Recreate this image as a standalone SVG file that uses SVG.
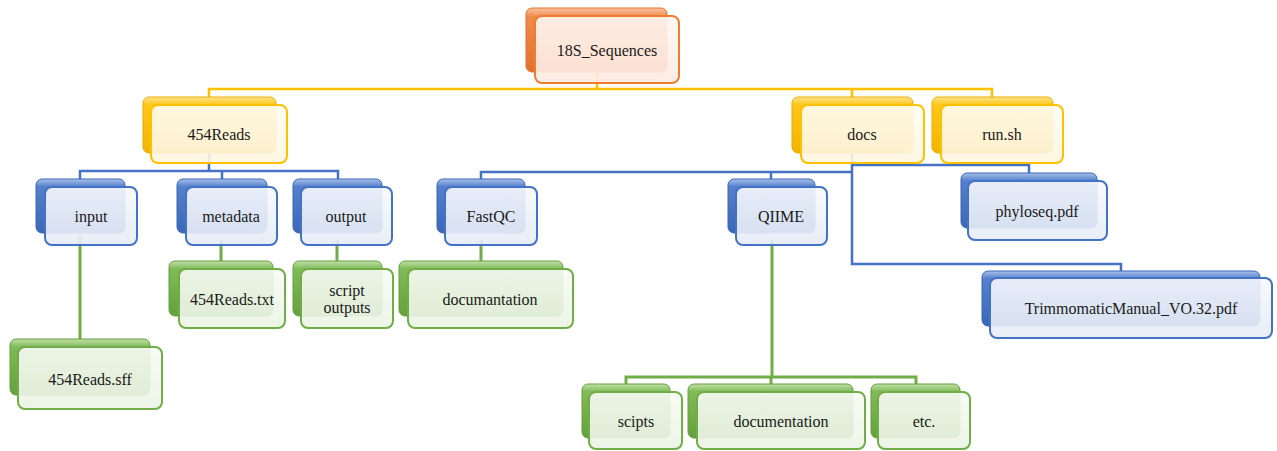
<svg xmlns="http://www.w3.org/2000/svg" width="1277" height="451" viewBox="0 0 1277 451">
<defs>
<linearGradient id="gO" x1="0" y1="0" x2="0" y2="1"><stop offset="0" stop-color="#f9c4a0"/><stop offset="0.14" stop-color="#f08a4c"/><stop offset="1" stop-color="#e2702e"/></linearGradient>
<linearGradient id="gY" x1="0" y1="0" x2="0" y2="1"><stop offset="0" stop-color="#ffe48a"/><stop offset="0.14" stop-color="#ffc61a"/><stop offset="1" stop-color="#f2b400"/></linearGradient>
<linearGradient id="gB" x1="0" y1="0" x2="0" y2="1"><stop offset="0" stop-color="#a9c0ea"/><stop offset="0.14" stop-color="#5580cc"/><stop offset="1" stop-color="#3b67b8"/></linearGradient>
<linearGradient id="gG" x1="0" y1="0" x2="0" y2="1"><stop offset="0" stop-color="#c2e0ab"/><stop offset="0.14" stop-color="#80bb58"/><stop offset="1" stop-color="#64a03c"/></linearGradient>
<linearGradient id="fO" x1="0" y1="0" x2="0" y2="1"><stop offset="0" stop-color="#fff8f4"/><stop offset="1" stop-color="#fdeae0"/></linearGradient>
<linearGradient id="fY" x1="0" y1="0" x2="0" y2="1"><stop offset="0" stop-color="#fffdf5"/><stop offset="1" stop-color="#fdf5de"/></linearGradient>
<linearGradient id="fB" x1="0" y1="0" x2="0" y2="1"><stop offset="0" stop-color="#f7f9fd"/><stop offset="1" stop-color="#e5ebf6"/></linearGradient>
<linearGradient id="fG" x1="0" y1="0" x2="0" y2="1"><stop offset="0" stop-color="#f8fbf5"/><stop offset="1" stop-color="#eaf3e4"/></linearGradient>
</defs>
<style>
.bk{rx:6px;ry:6px;stroke-width:1}
.fr{rx:7px;ry:7px;stroke-width:2;fill-opacity:0.9}
.o .bk{fill:url(#gO);stroke:#e2702e}
.o .fr{fill:url(#fO);stroke:#ed7d31}
.y .bk{fill:url(#gY);stroke:#e8ac00}
.y .fr{fill:url(#fY);stroke:#ffc000}
.b .bk{fill:url(#gB);stroke:#3b67b8}
.b .fr{fill:url(#fB);stroke:#4472c4}
.g .bk{fill:url(#gG);stroke:#64a03c}
.g .fr{fill:url(#fG);stroke:#70ad47}
text{font-family:"Liberation Serif","Times New Roman",serif;font-size:16px;fill:#1a1a1a;text-anchor:middle;dominant-baseline:central}
.cy{stroke:#ffc000;stroke-width:2.5;fill:none}
.cb{stroke:#4472c4;stroke-width:2.5;fill:none}
.cg{stroke:#70ad47;stroke-width:3;fill:none}
</style>
<g id="connectors">
<path class="cy" d="M597 70V89M209 97V89H992V97M852 89V97"/>
<path class="cb" d="M209 153V171M80 179V171H338V179M222 171V179"/>
<path class="cb" d="M852 153V264H1121V272M852 172H481V179M771 172V179M852 165H1029V174"/>
<path class="cg" d="M80 235V340M221 240V262M337 240V262M481 240V262"/>
<path class="cg" d="M772 240V377M626 385V377H916V385M771 377V385"/>
</g>
<g id="n-18S" class="o"><rect class="bk" x="526" y="8" width="141" height="64"/><rect class="fr" x="535" y="16" width="144" height="67"/><text x="607" y="50">18S_Sequences</text></g>
<g id="n-454Reads" class="y"><rect class="bk" x="143" y="97" width="133" height="56"/><rect class="fr" x="151" y="105" width="136" height="58"/><text x="219" y="134">454Reads</text></g>
<g id="n-docs" class="y"><rect class="bk" x="792" y="97" width="121" height="56"/><rect class="fr" x="801" y="105" width="123" height="58"/><text x="862" y="134">docs</text></g>
<g id="n-runsh" class="y"><rect class="bk" x="932" y="97" width="121" height="56"/><rect class="fr" x="941" y="105" width="122" height="58"/><text x="1002" y="134">run.sh</text></g>
<g id="n-input" class="b"><rect class="bk" x="36" y="179" width="89" height="54"/><rect class="fr" x="45" y="187" width="92" height="58"/><text x="91" y="216">input</text></g>
<g id="n-metadata" class="b"><rect class="bk" x="177" y="179" width="90" height="54"/><rect class="fr" x="186" y="187" width="91" height="58"/><text x="231" y="216">metadata</text></g>
<g id="n-output" class="b"><rect class="bk" x="293" y="179" width="89" height="54"/><rect class="fr" x="301" y="187" width="91" height="58"/><text x="346" y="216">output</text></g>
<g id="n-FastQC" class="b"><rect class="bk" x="437" y="179" width="88" height="54"/><rect class="fr" x="445" y="187" width="92" height="58"/><text x="491" y="216">FastQC</text></g>
<g id="n-QIIME" class="b"><rect class="bk" x="728" y="179" width="87" height="54"/><rect class="fr" x="736" y="187" width="91" height="58"/><text x="781" y="216">QIIME</text></g>
<g id="n-phyloseq" class="b"><rect class="bk" x="961" y="173" width="136" height="55"/><rect class="fr" x="968" y="181" width="139" height="59"/><text x="1037" y="211">phyloseq.pdf</text></g>
<g id="n-454txt" class="g"><rect class="bk" x="169" y="261" width="104" height="55"/><rect class="fr" x="179" y="269" width="106" height="59"/><text x="232" y="299">454Reads.txt</text></g>
<g id="n-scriptout" class="g"><rect class="bk" x="293" y="261" width="89" height="55"/><rect class="fr" x="301" y="269" width="92" height="59"/><text x="347" y="290">script</text><text x="347" y="307">outputs</text></g>
<g id="n-documantation" class="g"><rect class="bk" x="399" y="261" width="164" height="55"/><rect class="fr" x="408" y="269" width="165" height="59"/><text x="490" y="299">documantation</text></g>
<g id="n-454sff" class="g"><rect class="bk" x="10" y="339" width="140" height="56"/><rect class="fr" x="18" y="347" width="144" height="62"/><text x="90" y="379">454Reads.sff</text></g>
<g id="n-trimmomatic" class="b"><rect class="bk" x="982" y="271" width="278" height="55"/><rect class="fr" x="990" y="278" width="282" height="60"/><text x="1131" y="308">TrimmomaticManual_VO.32.pdf</text></g>
<g id="n-scipts" class="g"><rect class="bk" x="582" y="384" width="88" height="54"/><rect class="fr" x="589" y="392" width="93" height="57"/><text x="636" y="421">scipts</text></g>
<g id="n-documentation" class="g"><rect class="bk" x="688" y="384" width="165" height="54"/><rect class="fr" x="697" y="392" width="168" height="57"/><text x="781" y="421">documentation</text></g>
<g id="n-etc" class="g"><rect class="bk" x="871" y="384" width="89" height="54"/><rect class="fr" x="878" y="392" width="92" height="57"/><text x="924" y="421">etc.</text></g>
</svg>
